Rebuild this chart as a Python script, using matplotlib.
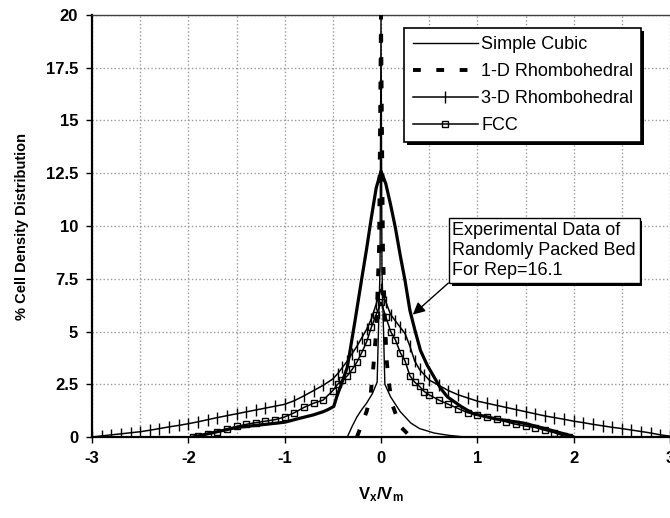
import matplotlib
matplotlib.use("Agg")
import matplotlib.pyplot as plt
import matplotlib.patheffects as pe
from matplotlib.ticker import MultipleLocator, FuncFormatter

plt.rcParams["font.family"] = ["Liberation Sans", "DejaVu Sans"]
plt.rcParams["axes.unicode_minus"] = False
plt.rcParams["mathtext.default"] = "regular"

# Simple Cubic (thin solid)
sc_x = [-0.35, -0.3, -0.25, -0.2, -0.15, -0.09, -0.04, -0.01, 0.0, 0.01, 0.04, 0.1, 0.2, 0.31, 0.4, 0.55, 0.7, 0.87]
sc_y = [0.0, 0.5, 0.95, 1.3, 1.6, 2.05, 2.6, 8.0, 20.0, 8.0, 2.5, 1.9, 1.2, 0.66, 0.4, 0.19, 0.08, 0.0]

# 1-D Rhombohedral (thick dashed)
rh1_x = [-0.25, -0.2, -0.15, -0.11, -0.08, -0.05, -0.02, 0.0, 0.02, 0.04, 0.06, 0.08, 0.12, 0.2, 0.31]
rh1_y = [0.0, 0.6, 1.2, 1.9, 3.3, 5.0, 9.0, 20.0, 9.0, 5.5, 3.6, 2.6, 1.5, 0.5, 0.0]

# 3-D Rhombohedral (line with tick markers)
rh3_x = [-3.0, -2.9, -2.8, -2.7, -2.6, -2.5, -2.4, -2.3, -2.2, -2.1, -2.0, -1.9, -1.8, -1.7, -1.6,
         -1.5, -1.4, -1.3, -1.2, -1.1, -1.0, -0.9, -0.8, -0.7, -0.6, -0.5, -0.45, -0.4, -0.35,
         -0.3, -0.25, -0.2, -0.15, -0.1, -0.05, 0.0, 0.05, 0.1, 0.15, 0.2, 0.25, 0.3, 0.35, 0.4,
         0.45, 0.5, 0.6, 0.7, 0.8, 0.9, 1.0, 1.1, 1.2, 1.3, 1.4, 1.5, 1.6, 1.7, 1.8, 1.9, 2.0,
         2.1, 2.2, 2.3, 2.4, 2.5, 2.6, 2.7, 2.8, 2.9, 3.0]
rh3_y = [0.0, 0.05, 0.1, 0.15, 0.2, 0.25, 0.32, 0.4, 0.48, 0.55, 0.63, 0.72, 0.82, 0.92, 1.01,
         1.1, 1.19, 1.28, 1.37, 1.46, 1.55, 1.72, 1.95, 2.2, 2.45, 2.75, 3.0, 3.3, 3.6,
         3.95, 4.3, 4.7, 5.1, 5.6, 6.3, 7.0, 6.4, 5.8, 5.5, 5.2, 4.9, 4.3, 3.6, 3.2,
         2.95, 2.7, 2.45, 2.2, 2.0, 1.85, 1.7, 1.6, 1.5, 1.4, 1.3, 1.2, 1.1, 1.0, 0.92, 0.84, 0.75,
         0.68, 0.6, 0.53, 0.46, 0.4, 0.33, 0.26, 0.19, 0.1, 0.04]

# FCC (line with square markers)
fcc_x = [-1.95, -1.9, -1.8, -1.7, -1.6, -1.5, -1.4, -1.3, -1.2, -1.1, -1.0, -0.9, -0.8, -0.7,
         -0.6, -0.5, -0.45, -0.4, -0.35, -0.3, -0.25, -0.2, -0.15, -0.1, -0.05, 0.0, 0.05, 0.1,
         0.15, 0.2, 0.25, 0.3, 0.35, 0.4, 0.45, 0.5, 0.6, 0.7, 0.8, 0.9, 1.0, 1.1, 1.2, 1.3,
         1.4, 1.5, 1.6, 1.7, 1.8, 1.9, 1.95]
fcc_y = [0.0, 0.05, 0.15, 0.25, 0.38, 0.5, 0.6, 0.68, 0.75, 0.82, 0.95, 1.15, 1.4, 1.6,
         1.75, 2.2, 2.5, 2.7, 2.9, 3.2, 3.55, 4.0, 4.5, 5.2, 5.8, 6.4, 5.7, 5.0,
         4.6, 4.0, 3.6, 2.9, 2.6, 2.4, 2.15, 2.0, 1.75, 1.55, 1.35, 1.15, 1.05, 0.93, 0.85, 0.72,
         0.6, 0.52, 0.45, 0.32, 0.2, 0.05, 0.0]

# Experimental data, randomly packed bed (thick solid, not in legend)
exp_x = [-1.95, -1.8, -1.5, -1.2, -1.0, -0.85, -0.7, -0.6, -0.55, -0.49, -0.46, -0.42, -0.35,
         -0.27, -0.2, -0.15, -0.1, -0.05, 0.0, 0.05, 0.1, 0.15, 0.2, 0.25, 0.3, 0.35, 0.41,
         0.48, 0.55, 0.62, 0.69, 0.83, 0.96, 1.2, 1.48, 1.7, 1.94, 2.0]
exp_y = [0.0, 0.15, 0.45, 0.6, 0.7, 0.88, 1.05, 1.2, 1.3, 1.45, 1.9, 2.4, 3.3,
         5.5, 7.5, 8.9, 10.4, 11.8, 12.6, 12.0, 11.0, 9.9, 8.6, 7.4, 6.0, 5.1, 4.1,
         3.4, 2.85, 2.3, 1.9, 1.45, 1.1, 0.85, 0.66, 0.4, 0.1, 0.0]

y_ticks = [0, 2.5, 5, 7.5, 10, 12.5, 15, 17.5, 20]
note = "Experimental Data of\nRandomly Packed Bed\nFor Rep=16.1"


def main():
    fig = plt.figure(figsize=(6.7, 5.18), dpi=100)
    ax = fig.add_axes([92 / 670, 81 / 518, 578 / 670, 422 / 518])

    ax.plot(exp_x, exp_y, color="black", lw=2.3, zorder=3)
    ax.plot(rh1_x, rh1_y, color="black", lw=2.8, dashes=(2, 4), label="1-D Rhombohedral", zorder=4)
    ax.plot(sc_x, sc_y, color="black", lw=1.0, label="Simple Cubic", zorder=4)
    ax.plot(rh3_x, rh3_y, color="black", lw=1.1, marker="|", ms=8, mew=1.0,
            label="3-D Rhombohedral", zorder=4)
    ax.plot(fcc_x, fcc_y, color="black", lw=1.1, marker="s", ms=5, mew=1.0, mfc="none",
            label="FCC", zorder=4)

    ax.set_xlim(-3, 3)
    ax.set_ylim(0, 20)
    ax.xaxis.set_major_locator(MultipleLocator(1))
    ax.xaxis.set_minor_locator(MultipleLocator(0.5))
    ax.set_yticks(y_ticks)
    ax.yaxis.set_major_formatter(FuncFormatter(lambda v, p: "%g" % v))
    ax.xaxis.set_major_formatter(FuncFormatter(lambda v, p: "%g" % v))

    ax.grid(True, which="both", axis="x", color="0.6", ls=":", lw=1.0)
    ax.grid(True, which="major", axis="y", color="0.6", ls=":", lw=1.0)
    ax.set_axisbelow(True)

    for s in ["left", "bottom"]:
        ax.spines[s].set_linewidth(1.6)
        ax.spines[s].set_color("black")
    ax.spines["top"].set_linewidth(1.0)
    ax.spines["top"].set_color("0.25")
    ax.spines["right"].set_visible(False)

    ax.tick_params(axis="both", which="major", direction="out", length=4, width=1.0,
                   labelsize=12, pad=6)
    ax.tick_params(axis="x", which="minor", length=0)
    for lab in ax.get_xticklabels() + ax.get_yticklabels():
        lab.set_fontweight("bold")

    ax.set_ylabel("% Cell Density Distribution", fontsize=10.5, fontweight="bold", labelpad=12)
    ax.set_xlabel("V$_x$/V$_m$", fontsize=12, fontweight="bold", labelpad=14)

    # legend order as in the picture
    handles, labels = ax.get_legend_handles_labels()
    order = [1, 0, 2, 3]
    leg = ax.legend([handles[i] for i in order], [labels[i] for i in order],
                    loc="upper left", bbox_to_anchor=(0.525, 0.99), fontsize=13,
                    numpoints=1, handlelength=3.6, handletextpad=0.2, labelspacing=0.55,
                    borderpad=0.45, fancybox=False, framealpha=1, edgecolor="black")
    leg.get_frame().set_linewidth(1.2)
    leg.get_frame().set_path_effects([pe.withSimplePatchShadow(offset=(2, -2),
                                      shadow_rgbFace="black", alpha=1)])

    t = ax.annotate(note, xy=(0.33, 5.8), xytext=(0.742, 7.47), ha="left", va="bottom",
                    fontsize=13, linespacing=1.25, zorder=6,
                    bbox=dict(boxstyle="square,pad=0.2", fc="white", ec="black", lw=1.0),
                    arrowprops=dict(arrowstyle="-|>", color="black", lw=1.0, relpos=(0, 0),
                                    mutation_scale=18, shrinkA=0, shrinkB=0))
    t.get_bbox_patch().set_path_effects([pe.withSimplePatchShadow(offset=(2, -2),
                                         shadow_rgbFace="black", alpha=1)])

    fig.savefig("out.png", dpi=100)


if __name__ == "__main__":
    main()
